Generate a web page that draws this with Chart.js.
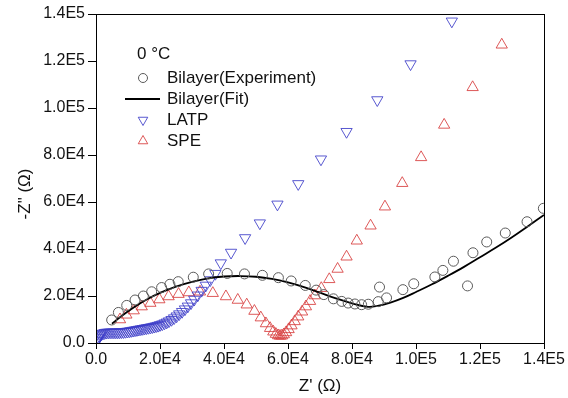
<!DOCTYPE html>
<html>
<head>
<meta charset="utf-8">
<script src="https://cdn.jsdelivr.net/npm/chart.js@4"></script>
<style>
  body { margin: 0; background: #fff; }
</style>
</head>
<body>
<canvas id="myChart" width="568" height="398"></canvas>
<script>
// Nyquist plot, 0 °C; values in ohm
const bilayerExpX = [4900, 7000, 9600, 12200, 14800, 17400, 20500, 23100, 25700, 30400, 35200, 41000, 46400, 52000, 57000, 61000, 65400, 68800, 71200, 74200, 76800, 78800, 80900, 83000, 85100, 88200, 88600, 90800, 95900, 99300, 105900, 108400, 111700, 116100, 117800, 122100, 127900, 134700, 139800];
const bilayerExpY = [9800, 13000, 16000, 18300, 20000, 21800, 23600, 25000, 26100, 28000, 29400, 29600, 29400, 28800, 27800, 26400, 24500, 22500, 20600, 18800, 17700, 17000, 16600, 16300, 16500, 17600, 23800, 19200, 22700, 25200, 28100, 30900, 34800, 24300, 38400, 43000, 46800, 51600, 57300];

const bilayerFitX = [5000, 8000, 12000, 16000, 20000, 25000, 30000, 35000, 40000, 45000, 50000, 55000, 60000, 65000, 70000, 75000, 80000, 85000, 88000, 92000, 96000, 100000, 105000, 110000, 115000, 120000, 125000, 130000, 135000, 140000];
const bilayerFitY = [8200, 11500, 15300, 18600, 21300, 24000, 26000, 27500, 28300, 28500, 28200, 27300, 25800, 23800, 21400, 19000, 16900, 15400, 15800, 17200, 19200, 21700, 25000, 28600, 32400, 36500, 40600, 45000, 49700, 54500];

const latpX = [100, 250, 450, 700, 1000, 1350, 1750, 2200, 2700, 3200, 3800, 4400, 5000, 5600, 6200, 6800, 7400, 8000, 8600, 9200, 9800, 10400, 11000, 11600, 12200, 12800, 13400, 14000, 14600, 15200, 15800, 16400, 17000, 17600, 18200, 18800, 19400, 20000, 20700, 21400, 22100, 22800, 23600, 24400, 25200, 26000, 26900, 27800, 28700, 29700, 30700, 31800, 33000, 34300, 35700, 37300, 39000, 42200, 46600, 51200, 56700, 63200, 70300, 78300, 87900, 98300, 111200];
const latpY = [300, 900, 1600, 2300, 2900, 3400, 3800, 4100, 4300, 4450, 4500, 4550, 4550, 4550, 4550, 4550, 4600, 4650, 4700, 4800, 4900, 5000, 5150, 5300, 5450, 5600, 5750, 5900, 6050, 6200, 6350, 6500, 6650, 6800, 7000, 7200, 7400, 7700, 8000, 8400, 8800, 9300, 9900, 10600, 11400, 12300, 13300, 14400, 15600, 17000, 18500, 20300, 22300, 24500, 26800, 29500, 34000, 38500, 44700, 51000, 59000, 67700, 78200, 89900, 103400, 118700, 136900];

const speX = [7500, 9500, 11800, 14300, 17000, 19800, 22700, 25800, 29000, 32500, 36500, 40600, 44300, 47100, 49500, 51500, 53100, 54400, 55400, 56200, 56900, 57500, 58100, 58700, 59400, 60200, 61100, 62100, 63200, 64400, 65600, 66900, 68400, 70400, 72900, 75500, 78300, 81500, 85800, 90300, 95700, 101600, 108800, 117700, 126800];
const speY = [10000, 12000, 13800, 15500, 17000, 18500, 19800, 20800, 21500, 21800, 21200, 19800, 18300, 16300, 13600, 10800, 8300, 6300, 4800, 3800, 3200, 3000, 3100, 3600, 4500, 5800, 7400, 9200, 11200, 13300, 15500, 17800, 20200, 23300, 27100, 31500, 36700, 43500, 49900, 58000, 68000, 79000, 92800, 108800, 126900];

const xTickLabels = ['0.0', '2.0E4', '4.0E4', '6.0E4', '8.0E4', '1.0E5', '1.2E5', '1.4E5'];
const yTickLabels = ['0.0', '2.0E4', '4.0E4', '6.0E4', '8.0E4', '1.0E5', '1.2E5', '1.4E5'];
const seriesNames = ['Bilayer(Experiment)', 'Bilayer(Fit)', 'LATP', 'SPE'];
const legendTitle = '0 \u00B0C';
const xTitle = "Z' (\u03A9)";
const yTitle = '-Z" (\u03A9)';

const FONT = '"Liberation Sans", Arial, sans-serif';

function toPoints(xs, ys) {
  return xs.map((x, i) => ({ x: x, y: ys[i] }));
}

// frame, axis titles and the in-plot legend
const extras = {
  id: 'extras',
  afterDraw(chart) {
    const ctx = chart.ctx;
    const a = chart.chartArea;
    ctx.save();
    ctx.strokeStyle = '#000';
    ctx.lineWidth = 1;
    ctx.strokeRect(a.left + 0.5, a.top + 0.5, a.right - a.left, a.bottom - a.top);

    ctx.fillStyle = '#111';
    ctx.font = '17px ' + FONT;
    ctx.textAlign = 'center';
    ctx.textBaseline = 'middle';
    ctx.fillText(xTitle, (a.left + a.right) / 2, 386);
    ctx.save();
    ctx.translate(25, 194);
    ctx.rotate(-Math.PI / 2);
    ctx.fillText(yTitle, 0, 0);
    ctx.restore();

    // legend
    const ds = chart.data.datasets;
    ctx.textAlign = 'left';
    ctx.fillText(legendTitle, 137, 54);
    const rows = [78, 99, 120, 141];
    rows.forEach((y, i) => {
      const d = ds[i];
      if (i === 1) {
        ctx.strokeStyle = d.borderColor;
        ctx.lineWidth = 2;
        ctx.beginPath();
        ctx.moveTo(125, y);
        ctx.lineTo(160, y);
        ctx.stroke();
      } else {
        ctx.fillStyle = 'rgba(0,0,0,0)';
        ctx.strokeStyle = d.borderColor;
        ctx.lineWidth = 1;
        Chart.helpers.drawPoint(ctx, {
          pointStyle: d.pointStyle,
          radius: i === 0 ? 4.5 : 5.5,
          borderWidth: 1,
          rotation: d.rotation || 0
        }, 143, y);
      }
      ctx.fillStyle = '#111';
      ctx.fillText(seriesNames[i], 167, y);
    });
    ctx.restore();
  }
};

const ctx = document.getElementById('myChart').getContext('2d');
const myChart = new Chart(ctx, {
  type: 'scatter',
  data: {
    datasets: [{
      label: seriesNames[0],
      data: toPoints(bilayerExpX, bilayerExpY),
      pointStyle: 'circle',
      pointRadius: 5,
      pointBorderWidth: 1,
      borderColor: '#5a5a5a',
      backgroundColor: 'rgba(0,0,0,0)'
    }, {
      label: seriesNames[1],
      data: toPoints(bilayerFitX, bilayerFitY),
      showLine: true,
      pointRadius: 0,
      borderColor: '#000',
      borderWidth: 1.8,
      tension: 0.4,
      backgroundColor: 'rgba(0,0,0,0)'
    }, {
      label: seriesNames[2],
      data: toPoints(latpX, latpY),
      pointStyle: 'triangle',
      rotation: 180,
      pointRadius: 6.5,
      pointBorderWidth: 1,
      borderColor: 'rgba(60,60,200,0.85)',
      backgroundColor: 'rgba(0,0,0,0)'
    }, {
      label: seriesNames[3],
      data: toPoints(speX, speY),
      pointStyle: 'triangle',
      pointRadius: 6.5,
      pointBorderWidth: 1,
      borderColor: 'rgba(215,60,60,0.85)',
      backgroundColor: 'rgba(0,0,0,0)'
    }]
  },
  options: {
    responsive: false,
    animation: false,
    events: [],
    layout: { padding: { top: 14, right: 24, left: 0, bottom: 0 } },
    plugins: {
      legend: { display: false },
      tooltip: { enabled: false }
    },
    scales: {
      x: {
        type: 'linear',
        min: 0,
        max: 140000,
        afterFit: s => { s.height = 55; },
        grid: { drawOnChartArea: false, drawTicks: true, tickLength: 6, color: '#000' },
        border: { display: true, color: '#000' },
        ticks: {
          stepSize: 20000,
          padding: 1,
          color: '#111',
          font: { family: FONT, size: 16 },
          callback: (v, i) => xTickLabels[i]
        }
      },
      y: {
        type: 'linear',
        min: 0,
        max: 140000,
        afterFit: s => { s.width = 96; },
        grid: { drawOnChartArea: false, drawTicks: true, tickLength: 8, color: '#000' },
        border: { display: true, color: '#000' },
        ticks: {
          stepSize: 20000,
          padding: 3,
          color: '#111',
          font: { family: FONT, size: 16 },
          callback: (v, i) => yTickLabels[i]
        }
      }
    }
  },
  plugins: [extras]
});
</script>
</body>
</html>
